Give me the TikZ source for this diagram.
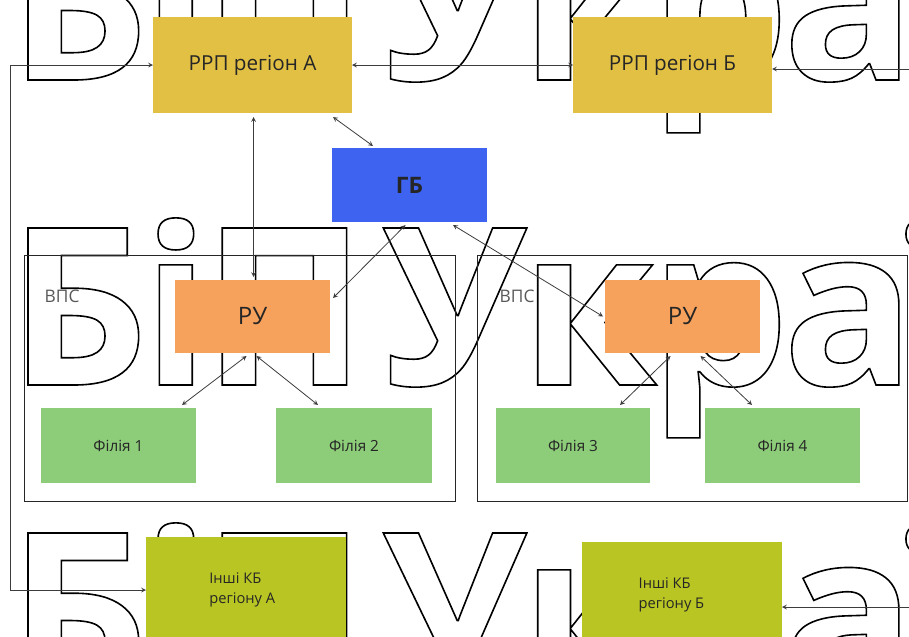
\documentclass[tikz,border=0pt]{standalone}
\usepackage{fontspec}
\setmainfont{Open Sans}
\usetikzlibrary{calc,arrows.meta}
\definecolor{rrpyel}{RGB}{226,192,68}
\definecolor{gbblue}{RGB}{61,99,240}
\definecolor{ruorange}{RGB}{247,162,92}
\definecolor{filgreen}{RGB}{141,204,121}
\definecolor{kbolive}{RGB}{184,197,34}
\definecolor{lnk}{RGB}{60,60,60}
\newcommand\hollow[1]{\special{pdf:literal direct 1 Tr 1.2 w}#1\special{pdf:literal direct 0 Tr}}

\begin{document}
\begin{tikzpicture}[x=0.75pt,y=-0.75pt,
    blk/.style={inner sep=0pt,outer sep=0pt,text=black!85},
    link/.style={<->,>=stealth,lnk,line width=0.6pt},
    wm/.style={inner sep=0pt,anchor=base west,font=\fontsize{165}{165}\selectfont\bfseries\addfontfeatures{LetterSpace=-3}}]
    \useasboundingbox(0,0)rectangle(909,636);
    % watermark
    \foreach \yb in {80,385,690}{
      \node[wm](wma\yb) at (8,\yb){\hollow{БіП}};
      \node[wm](wmb\yb) at (383,\yb){\hollow{Україна}};
    }
    % frames
    \node[draw=black!85,line width=0.75pt,inner sep=0pt,minimum width=323.25pt,minimum height=184.5pt](vpsa) at (239.5,378){};
    \node[draw=black!85,line width=0.75pt,inner sep=0pt,minimum width=322.5pt,minimum height=184.5pt](vpsb) at (692,378){};
    \node[anchor=west,text=black!65,font=\fontsize{13}{15}\selectfont](vpsal) at (40,296){ВПС};
    \node[anchor=west,text=black!65,font=\fontsize{13}{15}\selectfont](vpsbl) at (495,296){ВПС};
    % boxes
    \node[blk,fill=rrpyel,minimum width=149.25pt,minimum height=72pt,font=\fontsize{15.5}{18}\selectfont](ra) at (252.5,65){РРП регіон А};
    \node[blk,fill=rrpyel,minimum width=149.25pt,minimum height=72pt,font=\fontsize{15.5}{18}\selectfont](rb) at (672.5,65){РРП регіон Б};
    \node[blk,fill=gbblue,minimum width=116.25pt,minimum height=55.5pt,font=\fontsize{17}{19}\selectfont\bfseries](gb) at (409.5,185){ГБ};
    \node[blk,fill=ruorange,minimum width=116.25pt,minimum height=54.75pt,font=\fontsize{18}{20}\selectfont](rua) at (252.5,316.5){РУ};
    \node[blk,fill=ruorange,minimum width=116.25pt,minimum height=54.75pt,font=\fontsize{18}{20}\selectfont](rub) at (682.5,316.5){РУ};
    \node[blk,fill=filgreen,minimum width=116.25pt,minimum height=56.25pt,font=\fontsize{11.5}{13}\selectfont](f1) at (118.5,445.5){Філія 1};
    \node[blk,fill=filgreen,minimum width=117pt,minimum height=56.25pt,font=\fontsize{11.5}{13}\selectfont](f2) at (354,445.5){Філія 2};
    \node[blk,fill=filgreen,minimum width=115.5pt,minimum height=56.25pt,font=\fontsize{11.5}{13}\selectfont](f3) at (573,445.5){Філія 3};
    \node[blk,fill=filgreen,minimum width=116.25pt,minimum height=56.25pt,font=\fontsize{11.5}{13}\selectfont](f4) at (782.5,445.5){Філія 4};
    \node[blk,fill=kbolive,minimum width=150pt,minimum height=79.5pt,font=\fontsize{11}{15}\selectfont,align=left](ia) at (246,590){\raisebox{3pt}{\parbox{55pt}{Інші КБ\\регіону А}}};
    \node[blk,fill=kbolive,minimum width=150pt,minimum height=79.5pt,font=\fontsize{11}{15}\selectfont,align=left](ib) at (682,595){\raisebox{4pt}{\parbox{65pt}{Інші КБ\\регіону Б}}};
    % links
    \coordinate(lt) at (10,65);
    \coordinate(lb) at (10,590);
    \coordinate(rt) at (915,69);
    \coordinate(rbt) at (915,607);
    \draw[link](ra.west)--(lt)--(lb)--(ia.west);
    \draw[link](rb.west)--(ra.east);
    \draw[link,<-](rt-|rb.east)--(rt);
    \draw[link,<-](rbt-|ib.east)--(rbt);
    \draw[link]($(ra.south)+(1,4)$)--($(rua.north)+(1,-3)$);
    \draw[link]($(ra.south east)+(-19,4)$)--($(gb.north west)+(41,-2)$);
    \draw[link]($(gb.south)+(-4,3)$)--($(rua.north east)+(3,18)$);
    \draw[link]($(gb.south east)+(-34,3)$)--($(rub.west)+(-2,0)$);
    \draw[link]($(rua.south)+(-6,3)$)--($(f1.north east)+(-14,-3)$);
    \draw[link]($(rua.south)+(4,3)$)--($(f2.north west)+(42,-3)$);
    \draw[link]($(rub.south)+(-12,3)$)--($(f3.north east)+(-30,-3)$);
    \draw[link]($(rub.south)+(18,3)$)--($(f4.north west)+(47,-3)$);
\end{tikzpicture}
\end{document}
